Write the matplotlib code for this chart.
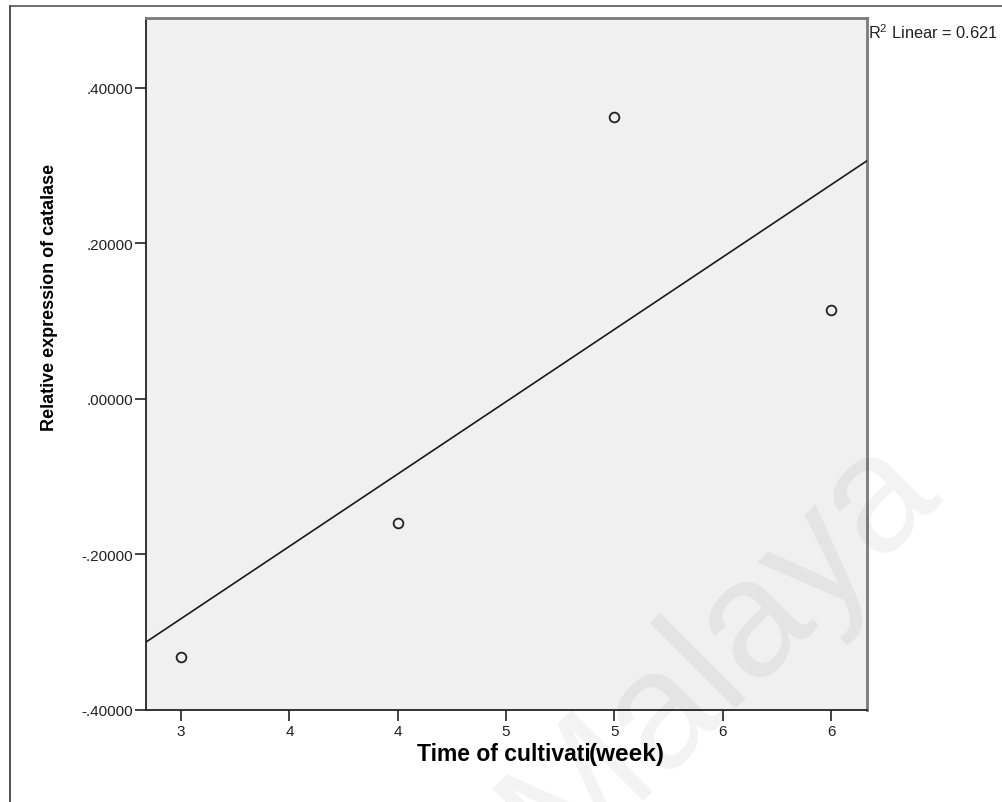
import numpy as np
import matplotlib
matplotlib.use("Agg")
import matplotlib.pyplot as plt
from matplotlib.lines import Line2D

plt.rcParams['font.family'] = ['Liberation Sans', 'DejaVu Sans']
plt.rcParams['mathtext.fontset'] = 'custom'
plt.rcParams['mathtext.rm'] = 'Liberation Sans'

# datos
semanas = [3, 4, 5, 6]
catalasa = [-0.332, -0.159, 0.363, 0.114]
ticks_x = [3, 3.5, 4, 4.5, 5, 5.5, 6]
etiquetas_x = ['3', '4', '4', '5', '5', '6', '6']
ticks_y = [-0.4, -0.2, 0.0, 0.2, 0.4]
etiquetas_y = ['-.40000', '-.20000', '.00000', '.20000', '.40000']
r2_texto = 'R$^2$ Linear = 0.621'

fig = plt.figure(figsize=(10.03, 8.03), dpi=100)
W, H = 1003, 803

# marco exterior (solo arriba e izquierda se ven)
fig.add_artist(Line2D([10 / W, 10 / W], [0, 1 - 7 / H], color='#333333', lw=1.2))
fig.add_artist(Line2D([10 / W, 1], [1 - 7 / H, 1 - 7 / H], color='#555555', lw=1.2))

x0, x1, y0, y1 = 146, 867, 19, 711
ax = fig.add_axes([x0 / W, 1 - y1 / H, (x1 - x0) / W, (y1 - y0) / H])
ax.set_facecolor('#f0f0f0')

ax.set_xlim(2.838, 6.166)
ax.set_ylim(-0.4, 0.49)

# recta de regresion
pend, inter = np.polyfit(semanas, catalasa, 1)
xs = np.array(ax.get_xlim())
ax.plot(xs, pend * xs + inter, color='#1a1a1a', lw=1.2, zorder=3)

ax.plot(semanas, catalasa, linestyle='none', marker='o', ms=7, mfc='none',
        mec='#222222', mew=1.3, zorder=4)

ax.set_xticks(ticks_x)
ax.set_xticklabels(etiquetas_x)
ax.set_yticks(ticks_y)
ax.set_yticklabels(etiquetas_y)
ax.tick_params(direction='out', length=8, width=1.2, labelsize=11, colors='#222222')
ax.tick_params(axis='x', pad=2)
ax.tick_params(axis='y', pad=1)

for lado in ['left', 'bottom']:
    ax.spines[lado].set_color('#222222')
    ax.spines[lado].set_linewidth(1.3)
for lado in ['top', 'right']:
    ax.spines[lado].set_color('#7a7a7a')
    ax.spines[lado].set_linewidth(2)

fig.text(868 / W, 1 - 33 / H, r2_texto, fontsize=11.8, ha='left', va='center', color='#222222')

fig.text(50 / W, 1 - 297 / H, 'Relative expression of catalase', rotation=90,
         fontsize=13, fontweight='bold', ha='center', va='center')
fig.text(591 / W, 1 - 755 / H, 'Time of cultivati', fontsize=16.5, fontweight='bold',
         ha='right', va='center')
fig.text(589 / W, 1 - 755 / H, '(week)', fontsize=17.5, fontweight='bold',
         ha='left', va='center')

# marca de agua
fig.text(720 / W, 1 - 650 / H, 'Malaya', fontsize=120, rotation=45, ha='center',
         va='center', color='black', alpha=0.05, zorder=10)

fig.savefig('out.png', dpi=100)
